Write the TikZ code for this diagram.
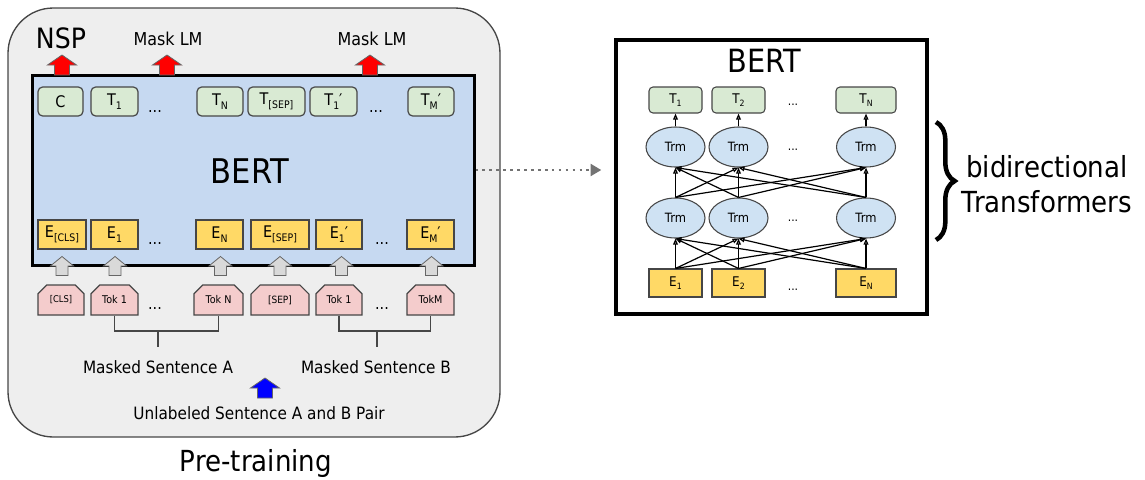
\documentclass[tikz,border=0pt]{standalone}
\usepackage{fontspec}
\setmainfont[FakeStretch=0.9]{DejaVu Sans}
\usetikzlibrary{positioning, shapes.misc, shapes.geometric, arrows.meta, decorations.pathreplacing}

\definecolor{bertblue}{RGB}{198,217,241}
\definecolor{outgreen}{RGB}{217,234,211}
\definecolor{embyellow}{RGB}{255,217,102}
\definecolor{tokpink}{RGB}{244,204,204}
\definecolor{trmblue}{RGB}{207,226,243}
\definecolor{panelgray}{RGB}{238,238,238}
\definecolor{edgegray}{RGB}{70,70,70}

\newcommand{\lowidx}[1]{\raisebox{-0.4ex}{\scalebox{0.65}{#1}}}
\newcommand{\fs}[1]{\fontsize{#1}{1.2\dimexpr#1pt\relax}\selectfont}

\tikzset{
  blockup/.pic={\filldraw[pic actions] (-7.5,10) -- (-7.5,0) -- (-14.5,0) -- (0,-10) -- (14.5,0) -- (7.5,0) -- (7.5,10) -- cycle;}
}

\begin{document}
\begin{tikzpicture}[x=0.75pt, y=-0.75pt,
    wd/.style={minimum width=#1*0.75pt},
    ht/.style={minimum height=#1*0.75pt},
    outbox/.style={draw=edgegray, line width=0.9pt, fill=outgreen, rounded corners=3.5pt, inner sep=0pt, ht=29, font=\fs{12}},
    embbox/.style={draw=edgegray, line width=0.9pt, fill=embyellow, inner sep=0pt, ht=29, font=\fs{12}},
    tokbox/.style={draw=edgegray, line width=0.9pt, fill=tokpink, chamfered rectangle, chamfered rectangle corners={north west, north east}, chamfered rectangle xsep=3.5pt, chamfered rectangle ysep=3.5pt, inner sep=0pt, ht=30, font=\fs{8}},
    routbox/.style={draw=edgegray, line width=0.8pt, fill=outgreen, rounded corners=3pt, inner sep=0pt, ht=26, font=\fs{10}},
    rembbox/.style={draw=edgegray, line width=0.8pt, fill=embyellow, inner sep=0pt, ht=28, font=\fs{10}},
    trm/.style={draw=edgegray, line width=0.8pt, fill=trmblue, ellipse, inner sep=0pt, wd=59, ht=40, font=\fs{9.6}},
    dots/.style={anchor=base, inner sep=0pt},
    trmarrow/.style={line width=0.9pt, -{Triangle[open, length=4.5pt, width=3.5pt]}},
    bracket/.style={draw=edgegray, line width=0.8pt},
    label/.style={anchor=base, inner sep=0pt}]
    \useasboundingbox (0,0) rectangle (1145,479);

    % Pre-training panel
    \node[draw=edgegray, line width=1pt, fill=panelgray, rounded corners=34pt, wd=492, ht=429] (pretrain) at (254,222.5) {};
    \node[label, font=\fs{21.75}] (pretrainlbl) at (256,471) {Pre-training};

    % BERT box (left)
    \node[draw=black, line width=2.25pt, fill=bertblue, wd=442, ht=190] (bertL) at (253,170) {};
    \node[label, font=\fs{25.5}] (bertLlbl) at (250,183) {BERT};

    % output row
    \node[outbox, wd=45] (tc) at (60.5,101.5) {C};
    \node[outbox, wd=47] (tA1) at (114.5,101.5) {T\lowidx{1}};
    \node[dots, font=\fs{12}] (tAdots) at (155,112) {...};
    \node[outbox, wd=46] (tAN) at (220,101.5) {T\lowidx{N}};
    \node[outbox, wd=57] (tsep) at (276.5,101.5) {T\lowidx{[SEP]}};
    \node[outbox, wd=47] (tB1) at (333.5,101.5) {T\lowidx{1}′};
    \node[dots, font=\fs{12}] (tBdots) at (376,112) {...};
    \node[outbox, wd=46] (tBM) at (431,101.5) {T\lowidx{M}′};

    % embedding row
    \node[embbox, wd=48] (ecls) at (62,234.5) {E\lowidx{[CLS]}};
    \node[embbox, wd=47] (eA1) at (114.5,234.5) {E\lowidx{1}};
    \node[dots, font=\fs{12}] (eAdots) at (155,244) {...};
    \node[embbox, wd=47] (eAN) at (219.5,234.5) {E\lowidx{N}};
    \node[embbox, wd=58] (esep) at (280,234.5) {E\lowidx{[SEP]}};
    \node[embbox, wd=46] (eB1) at (339,234.5) {E\lowidx{1}′};
    \node[dots, font=\fs{12}] (eBdots) at (382,244) {...};
    \node[embbox, wd=47] (eBM) at (430.5,234.5) {E\lowidx{M}′};

    % token row
    \node[tokbox, wd=46, font=\fs{7}] (tokcls) at (61,300) {[CLS]};
    \node[tokbox, wd=47] (tokA1) at (114.5,300) {Tok 1};
    \node[dots, font=\fs{12}] (tokAdots) at (155,309) {...};
    \node[tokbox, wd=49] (tokAN) at (218.5,300) {Tok N};
    \node[tokbox, wd=58, font=\fs{7.5}] (toksep) at (280,300) {[SEP]};
    \node[tokbox, wd=46] (tokB1) at (339,300) {Tok 1};
    \node[dots, font=\fs{12}] (tokBdots) at (382,309) {...};
    \node[tokbox, wd=47] (tokBM) at (430.5,300) {TokM};

    % sentence brackets
    \coordinate (jA) at (158,331);
    \coordinate (jB) at (377,331);
    \draw[bracket] (tokA1.south) |- (jA) -| (tokAN.south);
    \draw[bracket] (jA) -- ++(0,16);
    \draw[bracket] (tokB1.south) |- (jB) -| (tokBM.south);
    \draw[bracket] (jB) -- ++(0,16);
    \node[label, font=\fs{12.75}] (sentA) at (158,373) {Masked Sentence A};
    \node[label, font=\fs{12.75}] (sentB) at (376,373) {Masked Sentence B};
    \node[label, font=\fs{12.75}] (pair) at (259,419) {Unlabeled Sentence A and B Pair};

    % heads
    \node[label, font=\fs{21}] (nsp) at (61,48) {NSP};
    \node[label, font=\fs{13.3}] (mlmA) at (168,45) {Mask LM};
    \node[label, font=\fs{13.3}] (mlmB) at (372,45) {Mask LM};

    % block arrows
    \pic[fill=red, draw=black!60, line width=0.6pt] at (62,65) {blockup};
    \pic[fill=red, draw=black!60, line width=0.6pt] at (167,65) {blockup};
    \pic[fill=red, draw=black!60, line width=0.6pt] at (370,65) {blockup};
    \pic[fill=black!15, draw=black!60, line width=0.6pt, xscale=0.8, yscale=0.95] at (62,266) {blockup};
    \pic[fill=black!15, draw=black!60, line width=0.6pt, xscale=0.8, yscale=0.95] at (115,266) {blockup};
    \pic[fill=black!15, draw=black!60, line width=0.6pt, xscale=0.8, yscale=0.95] at (220.5,266) {blockup};
    \pic[fill=black!15, draw=black!60, line width=0.6pt, xscale=0.8, yscale=0.95] at (280,266) {blockup};
    \pic[fill=black!15, draw=black!60, line width=0.6pt, xscale=0.8, yscale=0.95] at (341.5,266) {blockup};
    \pic[fill=black!15, draw=black!60, line width=0.6pt, xscale=0.8, yscale=0.95] at (431.5,266) {blockup};
    \pic[fill=blue, draw=black!60, line width=0.6pt] at (265,388) {blockup};

    % BERT box (right)
    \node[draw=black, line width=2.6pt, wd=311, ht=274] (bertR) at (771.5,177) {};
    \node[label, font=\fs{24}] (bertRlbl) at (764,72) {BERT};

    \node[routbox, wd=53] (rT1) at (675.5,100) {T\lowidx{1}};
    \node[routbox, wd=53] (rT2) at (738.5,100) {T\lowidx{2}};
    \node[dots, font=\fs{9}] (rTdots) at (793,105) {...};
    \node[routbox, wd=60] (rTN) at (866,100) {T\lowidx{N}};

    \node[trm] (rA1) at (675.5,147) {Trm};
    \node[trm] (rA2) at (738.5,147) {Trm};
    \node[dots, font=\fs{9}] (rAdots) at (793,150) {...};
    \node[trm] (rAN) at (866,147) {Trm};

    \node[trm] (rB1) at (675.5,218) {Trm};
    \node[trm] (rB2) at (738.5,218) {Trm};
    \node[dots, font=\fs{9}] (rBdots) at (793,221) {...};
    \node[trm] (rBN) at (866,218) {Trm};

    \node[rembbox, wd=53] (rE1) at (675.5,283) {E\lowidx{1}};
    \node[rembbox, wd=53] (rE2) at (738.5,283) {E\lowidx{2}};
    \node[dots, font=\fs{9}] (rEdots) at (793,290) {...};
    \node[rembbox, wd=60] (rEN) at (866,283) {E\lowidx{N}};

    % transformer connections
    \foreach \i in {1,2,N} {
        \draw[trmarrow] (rA\i.north) -- (rT\i.south);
        \foreach \j in {1,2,N} {
            \draw[trmarrow] (rB\i.north) -- (rA\j.south);
            \draw[trmarrow] (rE\i.north) -- (rB\j.south);
        }
    }

    % link between the two boxes
    \draw[black!55, line width=1.6pt, dash pattern=on 2pt off 3.2pt, shorten >=9.75pt, -{Triangle[length=8pt, width=9pt]}] (bertL.east) -- (bertL.east -| bertR.west);

    % brace and label
    \draw[decorate, decoration={brace, amplitude=14pt}, line width=3.4pt] (936,122) -- (936,240);
    \node[font=\fs{21.75}, align=center, inner sep=0pt] (bidir) at (1047,184) {bidirectional\\[0pt]Transformers};
\end{tikzpicture}
\end{document}
